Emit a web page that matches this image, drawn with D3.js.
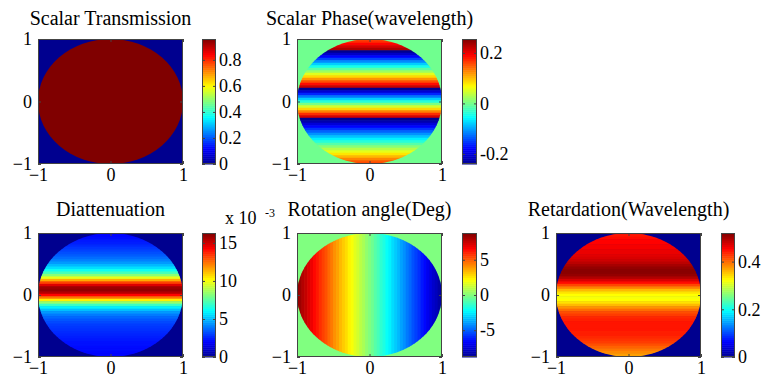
<!DOCTYPE html>
<html>
<head>
<meta charset="utf-8">
<script src="https://cdn.jsdelivr.net/npm/d3@7"></script>
<style>
  body { margin: 0; background: #fff; }
  svg text { font-family: "Liberation Serif", "Times New Roman", serif; fill: #000; }
</style>
</head>
<body>
<svg id="chart" width="771" height="382" font-family="Liberation Serif"></svg>
<script>
// pupil coordinate ticks (both axes)
const axisTicks = [-1, 0, 1];

// transmission: [outside pupil, inside pupil]
const transmissionLevels = [0, 0.96];

// profiles sampled every 0.04 across the pupil (top->bottom for y, left->right for x)
const phaseProfile = [0.150, 0.171, 0.192, 0.213, 0.233, -0.243, -0.210, -0.177, -0.144, -0.111,
  -0.078, -0.044, -0.011, 0.022, 0.055, 0.088, 0.121, 0.155, 0.188, 0.221,
  -0.245, -0.203, -0.161, -0.120, -0.078, -0.036, 0.005, 0.047, 0.089, 0.130,
  0.172, 0.214, -0.247, -0.224, -0.200, -0.177, -0.153, -0.130, -0.107, -0.083,
  -0.060, -0.036, -0.013, 0.011, 0.034, 0.057, 0.081, 0.104, 0.128, 0.151, 0.175];

// x 10^-3
const diattenuationProfile = [2.0, 2.1, 2.2, 2.4, 2.5, 2.7, 2.9, 3.1, 3.3, 3.5,
  3.8, 4.1, 4.5, 5.0, 5.6, 6.3, 7.2, 8.3, 9.8, 11.5,
  13.2, 14.8, 15.8, 16.0, 15.5, 14.2, 12.4, 10.4, 8.5, 7.0,
  5.9, 5.1, 4.5, 4.0, 3.7, 3.4, 3.2, 3.0, 2.9, 2.8,
  2.7, 2.6, 2.5, 2.4, 2.3, 2.3, 2.2, 2.2, 2.1, 2.1, 2.0];

const rotationProfile = [8.6, 8.3, 7.9, 7.6, 7.2, 6.9, 6.5, 6.2, 5.8, 5.5,
  5.2, 4.8, 4.5, 4.1, 3.8, 3.4, 3.1, 2.8, 2.4, 2.1,
  1.7, 1.4, 1.0, 0.7, 0.3, 0.0, -0.3, -0.7, -1.0, -1.4,
  -1.7, -2.1, -2.4, -2.8, -3.1, -3.4, -3.8, -4.1, -4.5, -4.8,
  -5.2, -5.5, -5.8, -6.2, -6.5, -6.9, -7.2, -7.6, -7.9, -8.3, -8.6];

const retardationProfile = [0.44, 0.445, 0.45, 0.455, 0.455, 0.46, 0.46, 0.465, 0.465, 0.47,
  0.475, 0.48, 0.49, 0.50, 0.51, 0.515, 0.515, 0.51, 0.495, 0.475,
  0.45, 0.42, 0.39, 0.36, 0.34, 0.325, 0.32, 0.325, 0.34, 0.36,
  0.38, 0.40, 0.415, 0.425, 0.435, 0.44, 0.445, 0.445, 0.445, 0.445,
  0.44, 0.44, 0.435, 0.43, 0.425, 0.415, 0.405, 0.395, 0.385, 0.375, 0.365];

// colour limits and colorbar ticks
const transmissionLimits = [0, 0.96], transmissionTicks = [0, 0.2, 0.4, 0.6, 0.8];
const phaseLimits = [-0.24, 0.255], phaseTicks = [-0.2, 0, 0.2];
const diattenuationLimits = [0, 16.3], diattenuationTicks = [0, 5, 10, 15];
const rotationLimits = [-8.8, 8.8], rotationTicks = [-5, 0, 5];
const retardationLimits = [0, 0.52], retardationTicks = [0, 0.2, 0.4];

const samplePos = d3.range(51).map(i => -1 + i * 0.04);

// matlab jet
const jet = d3.scaleLinear()
  .domain([0, 0.125, 0.375, 0.625, 0.875, 1])
  .range(["#00008f", "#0000ff", "#00ffff", "#ffff00", "#ff0000", "#800000"])
  .clamp(true);

const FONT = "Liberation Serif";
const svg = d3.select("#chart");
const defs = svg.append("defs");

const panels = [
  { id: "t", title: "Scalar Transmission", x0: 38, x1: 183, y0: 39, y1: 164, cb: [202, 216], titleY: 25,
    limits: transmissionLimits, ticks: transmissionTicks, kind: "flat", data: transmissionLevels },
  { id: "p", title: "Scalar Phase(wavelength)", x0: 297, x1: 442, y0: 39, y1: 164, cb: [462, 477], titleY: 25,
    limits: phaseLimits, ticks: phaseTicks, kind: "rows", data: phaseProfile },
  { id: "d", title: "Diattenuation", x0: 38, x1: 183, y0: 233, y1: 357, cb: [202, 216], titleY: 216,
    limits: diattenuationLimits, ticks: diattenuationTicks, kind: "rows", data: diattenuationProfile, exponent: true },
  { id: "r", title: "Rotation angle(Deg)", x0: 297, x1: 442, y0: 233, y1: 357, cb: [462, 477], titleY: 216,
    limits: rotationLimits, ticks: rotationTicks, kind: "cols", data: rotationProfile },
  { id: "w", title: "Retardation(Wavelength)", x0: 556, x1: 701, y0: 233, y1: 357, cb: [721, 735], titleY: 216,
    limits: retardationLimits, ticks: retardationTicks, kind: "rows", data: retardationProfile }
];

panels.forEach(drawPanel);

function styleText(sel, size) {
  sel.attr("font-family", FONT).style("font-family", FONT)
    .style("font-size", size + "px").attr("fill", "#000");
}

function drawPanel(p) {
  const x = d3.scaleLinear().domain([-1, 1]).range([p.x0, p.x1]);
  const y = d3.scaleLinear().domain([-1, 1]).range([p.y1, p.y0]);
  const cnorm = d3.scaleLinear().domain(p.limits).range([0, 1]);
  const color = v => jet(cnorm(v));

  const g = svg.append("g");

  defs.append("clipPath").attr("id", "pupil-" + p.id)
    .append("ellipse")
    .attr("cx", x(0)).attr("cy", y(0))
    .attr("rx", x(1) - x(0)).attr("ry", y(-1) - y(0));

  // outside pupil
  g.append("rect")
    .attr("x", p.x0).attr("y", p.y0)
    .attr("width", p.x1 - p.x0).attr("height", p.y1 - p.y0)
    .attr("fill", p.kind == "flat" ? color(p.data[0]) : color(0));

  const inner = g.append("g").attr("clip-path", "url(#pupil-" + p.id + ")");
  const half = 0.02;
  if (p.kind == "flat") {
    inner.append("rect")
      .attr("x", p.x0).attr("y", p.y0)
      .attr("width", p.x1 - p.x0).attr("height", p.y1 - p.y0)
      .attr("fill", color(p.data[1]));
  } else if (p.kind == "rows") {
    // profile listed top -> bottom
    inner.selectAll("rect").data(p.data).enter().append("rect")
      .attr("x", p.x0)
      .attr("width", p.x1 - p.x0)
      .attr("y", (d, i) => y(samplePos[50 - i] + half))
      .attr("height", (d, i) => y(samplePos[50 - i] - half) - y(samplePos[50 - i] + half) + 0.6)
      .attr("fill", d => color(d));
  } else {
    inner.selectAll("rect").data(p.data).enter().append("rect")
      .attr("y", p.y0)
      .attr("height", p.y1 - p.y0)
      .attr("x", (d, i) => x(samplePos[i] - half))
      .attr("width", (d, i) => x(samplePos[i] + half) - x(samplePos[i] - half) + 0.6)
      .attr("fill", d => color(d));
  }

  // box
  g.append("rect")
    .attr("x", p.x0 + 0.5).attr("y", p.y0 + 0.5)
    .attr("width", p.x1 - p.x0 - 1).attr("height", p.y1 - p.y0 - 1)
    .attr("fill", "none").attr("stroke", "#444").attr("stroke-width", 1);

  const fmt = d3.format("d");
  const axes = [
    d3.axisLeft(y).tickValues(axisTicks).tickSize(-3).tickPadding(6).tickFormat(fmt),
    d3.axisBottom(x).tickValues(axisTicks).tickSize(-3).tickPadding(4).tickFormat(fmt),
    d3.axisRight(y).tickValues(axisTicks).tickSize(-3).tickFormat(""),
    d3.axisTop(x).tickValues(axisTicks).tickSize(-3).tickFormat("")
  ];
  const pos = [[p.x0, 0], [0, p.y1], [p.x1, 0], [0, p.y0]];
  axes.forEach((a, k) => {
    const ag = g.append("g")
      .attr("transform", "translate(" + pos[k][0] + "," + pos[k][1] + ")")
      .call(a);
    ag.attr("font-family", FONT);
    ag.select(".domain").remove();
    ag.selectAll("line").attr("stroke", "#444");
    styleText(ag.selectAll("text"), 18);
  });

  // title
  styleText(g.append("text")
    .attr("x", (p.x0 + p.x1) / 2).attr("y", p.titleY)
    .attr("text-anchor", "middle")
    .text(p.title), 20);

  // colorbar
  const cy = d3.scaleLinear().domain(p.limits).range([p.y1, p.y0]);
  const steps = d3.range(64);
  const cbw = p.cb[1] - p.cb[0];
  const stepH = (p.y1 - p.y0) / 64;
  g.append("g").selectAll("rect").data(steps).enter().append("rect")
    .attr("x", p.cb[0])
    .attr("width", cbw)
    .attr("y", d => p.y1 - (d + 1) * stepH)
    .attr("height", stepH + 0.5)
    .attr("fill", d => jet((d + 0.5) / 64));
  g.append("rect")
    .attr("x", p.cb[0] + 0.5).attr("y", p.y0 + 0.5)
    .attr("width", cbw - 1).attr("height", p.y1 - p.y0 - 1)
    .attr("fill", "none").attr("stroke", "#444");

  const cbAxis = g.append("g")
    .attr("transform", "translate(" + p.cb[1] + ",0)")
    .call(d3.axisRight(cy).tickValues(p.ticks).tickSize(-3).tickPadding(3).tickFormat(d => String(d)));
  cbAxis.attr("font-family", FONT);
  cbAxis.select(".domain").remove();
  cbAxis.selectAll("line").attr("stroke", "#444");
  styleText(cbAxis.selectAll("text"), 18);

  const cbLeft = g.append("g")
    .attr("transform", "translate(" + p.cb[0] + ",0)")
    .call(d3.axisLeft(cy).tickValues(p.ticks).tickSize(-3).tickFormat(""));
  cbLeft.select(".domain").remove();
  cbLeft.selectAll("line").attr("stroke", "#444");

  if (p.exponent) {
    styleText(g.append("text").attr("x", p.cb[1] + 9).attr("y", p.y0 - 9).text("x 10"), 18);
    styleText(g.append("text").attr("x", p.cb[1] + 49).attr("y", p.y0 - 16).text("-3"), 12);
  }
}
</script>
</body>
</html>
